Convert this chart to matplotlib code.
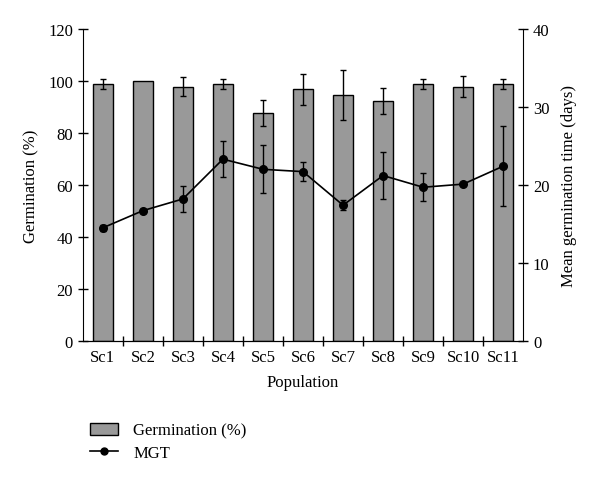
import numpy as np
import matplotlib.pyplot as plt
from matplotlib.lines import Line2D
from matplotlib.patches import Patch

plt.rcParams['font.family'] = ['Liberation Serif', 'DejaVu Serif']

populations = ['Sc1', 'Sc2', 'Sc3', 'Sc4', 'Sc5', 'Sc6', 'Sc7', 'Sc8', 'Sc9', 'Sc10', 'Sc11']
germination = [98.8, 100.0, 97.8, 98.8, 87.7, 96.7, 94.5, 92.3, 98.8, 97.8, 98.8]
germ_err = [1.9, 0.0, 3.8, 2.0, 5.1, 5.8, 9.6, 5.1, 2.0, 3.9, 2.0]
mgt = [14.5, 16.7, 18.2, 23.3, 22.0, 21.7, 17.4, 21.2, 19.7, 20.1, 22.4]
mgt_err = [0.4, 0.2, 1.7, 2.3, 3.05, 1.25, 0.65, 3.0, 1.8, 0.1, 5.1]

x = np.arange(len(populations))

fig, ax = plt.subplots(figsize=(6.0, 4.81), dpi=100)
fig.subplots_adjust(left=0.138, right=0.872, top=0.938, bottom=0.289)

ax.bar(x, germination, width=0.5, color='#999999', edgecolor='black', linewidth=1.0, zorder=2)
# skip error bars that are zero (Sc2 has none in the original)
has_err = np.array(germ_err) > 0
ax.errorbar(x[has_err], np.array(germination)[has_err], yerr=np.array(germ_err)[has_err],
            fmt='none', ecolor='black', elinewidth=1.0, capsize=2.5, capthick=1.0, zorder=3)
ax.set_ylim(0, 120)
ax.set_yticks(range(0, 121, 20))
ax.set_xlim(-0.5, len(populations) - 0.5)
ax.set_xticks(x)
ax.set_xticklabels(populations)
ax.set_xticks(np.arange(0.5, len(populations) - 0.5, 1), minor=True)
ax.tick_params(axis='x', which='major', length=0, labelsize=12, pad=6)
ax.tick_params(axis='x', which='minor', direction='inout', length=7, width=1)
ax.tick_params(axis='y', direction='inout', length=7, width=1, labelsize=12)
ax.set_ylabel('Germination (%)', fontsize=12, labelpad=6)
ax.set_xlabel('Population', fontsize=12, labelpad=6)
ax.spines['top'].set_visible(False)
ax.spines['right'].set_visible(False)

ax2 = ax.twinx()
ax2.errorbar(x, mgt, yerr=mgt_err, color='black', marker='o', markersize=5.5,
             linewidth=1.2, elinewidth=1.0, capsize=2.5, capthick=1.0, zorder=3)
ax2.set_ylim(0, 40)
ax2.set_yticks(range(0, 41, 10))
ax2.tick_params(axis='y', direction='inout', length=7, width=1, labelsize=12)
ax2.set_ylabel('Mean germination time (days)', fontsize=12, labelpad=8)
ax2.spines['top'].set_visible(False)
ax2.spines['left'].set_visible(False)

handles = [Patch(facecolor='#999999', edgecolor='black', linewidth=1.0),
           Line2D([0], [0], color='black', marker='o', markersize=5, linewidth=1.2)]
fig.legend(handles, ['Germination (%)', 'MGT'], loc='upper left',
           bbox_to_anchor=(0.125, 0.15), frameon=False, fontsize=12,
           handlelength=1.7, handletextpad=0.9, labelspacing=0.35)

fig.savefig('out.png', dpi=100)
